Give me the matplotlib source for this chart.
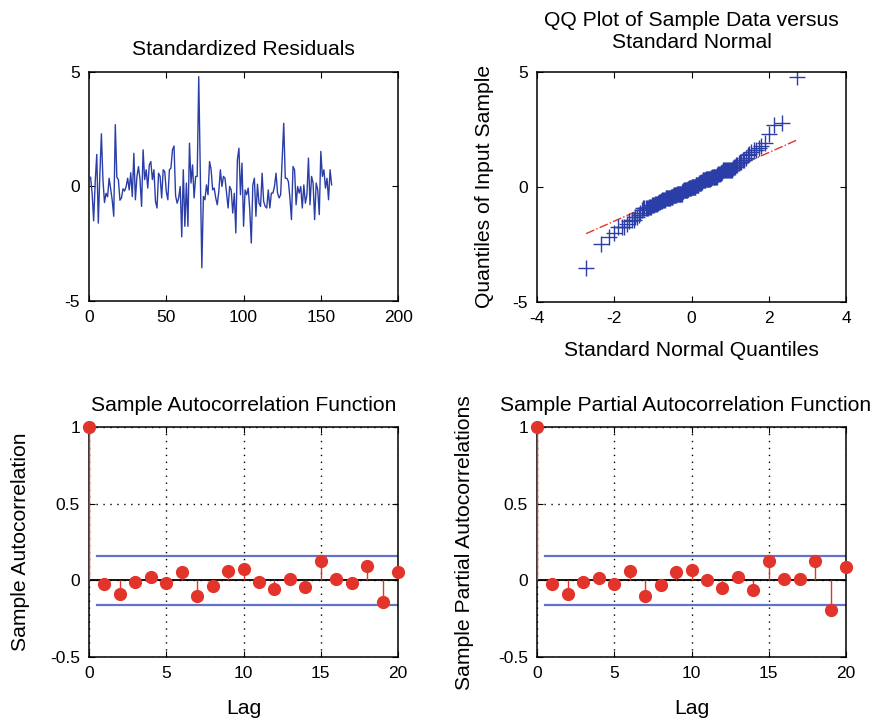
import numpy as np
import matplotlib.pyplot as plt
from statistics import NormalDist

plt.rcParams['font.family'] = ['Liberation Sans', 'DejaVu Sans']
plt.rcParams['axes.unicode_minus'] = False

# standardized residuals
resid = [0.4, -0.3, -1.5, 0.2, 1.4, -1.6, 0.5, 2.3, 0.3, -0.7,
         -0.3, -0.45, 0.36, -0.1, -0.6, -1.3, 2.7, 0.4, 0.3, -0.6,
         -0.5, -0.1, -0.2, 0.0, 0.36, -0.15, 0.6, -0.44, 1.45, -0.58,
         0.44, 0.87, 0.3, -0.87, 1.6, 0.3, 0.73, -0.07, 0.94, 1.09,
         0.3, 0.73, -0.65, -0.94, 0.58, 0.44, -0.5, 0.73, 0.65, -0.22,
         -0.58, 0.73, 0.8, 1.6, 1.77, -0.4, -0.73, -0.5, 0.0, -2.2,
         0.73, -1.74, 0.15, -1.74, 1.89, 0.15, 0.94, -0.5, 0.44, 0.44,
         4.8, 0.6, -3.55, -0.44, -0.58, 0.07, -0.36, 1.09, 0.73, -0.15,
         -0.07, -0.5, -0.8, -0.2, 0.73, 0.0, 0.44, 0.36, -0.3, -0.94,
         0.0, -0.15, -1.16, -0.3, -2.03, 1.16, 1.67, -0.36, 1.02, -1.74,
         -0.15, -0.36, -0.07, -1.0, -2.47, 0.07, 0.36, -1.3, 0.1, -0.73,
         -0.87, 0.58, -0.65, -0.87, -0.94, -0.15, -0.94, -0.29, -0.29, 0.0,
         0.58, -0.29, -0.5, -0.36, 1.16, 2.76, 0.36, 0.36, 0.22, -0.5,
         -1.45, 0.87, 0.73, -0.8, 0.0, -0.29, 0.0, -0.94, 0.07, -0.73,
         -0.36, 1.24, -0.8, 0.44, 0.15, -1.45, 0.15, -0.15, -1.23, 1.53,
         0.44, 0.73, -0.07, 0.36, -0.58, 0.73, 0.07]

lags = list(range(21))
acf = [1.0, -0.02, -0.09, -0.01, 0.024, -0.015, 0.054, -0.104, -0.035, 0.061,
       0.072, -0.009, -0.054, 0.009, -0.046, 0.128, 0.009, -0.015, 0.096, -0.143,
       0.052]
pacf = [1.0, -0.022, -0.091, -0.011, 0.017, -0.022, 0.059, -0.104, -0.033, 0.057,
        0.065, 0.0, -0.05, 0.02, -0.065, 0.128, 0.007, 0.009, 0.13, -0.191,
        0.087]
bounds = [0.16, -0.16]

blue = '#2b3ea8'
bound_blue = '#6374c4'
red = '#e2342a'
fs_title = 15.2
fs_tick = 12.5


def style(ax):
    ax.tick_params(direction='in', top=True, right=True, length=4, pad=6.5,
                   labelsize=fs_tick, colors='black')
    for s in ax.spines.values():
        s.set_linewidth(1.1)


fig = plt.figure(figsize=(8.78, 7.2), dpi=100)

# residuals
ax1 = fig.add_axes([0.1014, 0.582, 0.352, 0.318])
t = np.arange(1, len(resid) + 1)
ax1.plot(t, resid, color=blue, lw=1.0)
ax1.set_xlim(0, 200)
ax1.set_ylim(-5, 5)
ax1.set_xticks([0, 50, 100, 150, 200])
ax1.set_yticks([-5, 0, 5])
ax1.set_title('Standardized Residuals', fontsize=fs_title, pad=12)
style(ax1)

# QQ plot
ax2 = fig.add_axes([0.6116, 0.581, 0.352, 0.319])
y = np.sort(resid)
n = len(y)
nd = NormalDist()
x = np.array([nd.inv_cdf((i + 0.5) / n) for i in range(n)])
q1x, q3x = np.percentile(x, [25, 75])
q1y, q3y = np.percentile(y, [25, 75])
slope = (q3y - q1y) / (q3x - q1x)
cx, cy = (q1x + q3x) / 2, (q1y + q3y) / 2
mx = np.array([x.min(), x.max()])
my = cy + slope * (mx - cx)
ax2.plot(mx, my, color=red, lw=1.0, ls='-.', zorder=1)
ax2.plot(x, y, '+', color=blue, ms=11, mew=1.0, zorder=2)
ax2.set_xlim(-4, 4)
ax2.set_ylim(-5, 5)
ax2.set_xticks([-4, -2, 0, 2, 4])
ax2.set_yticks([-5, 0, 5])
ax2.set_title('QQ Plot of Sample Data versus\nStandard Normal', fontsize=fs_title,
              pad=17, linespacing=1.22)
ax2.set_xlabel('Standard Normal Quantiles', fontsize=fs_title, labelpad=11)
ax2.set_ylabel('Quantiles of Input Sample', fontsize=fs_title, labelpad=13)
style(ax2)


def stem_panel(ax, vals, title, ylabel, ypad):
    ax.grid(True, color='black', ls=(0, (1, 4)), lw=1.0)
    ax.axhline(0, color='black', lw=1.3, zorder=2)
    for b in bounds:
        ax.plot([0.5, 20], [b, b], color=bound_blue, lw=1.6, zorder=2)
    ax.vlines(lags, 0, vals, color=red, lw=1.0, zorder=3)
    ax.plot(lags, vals, 'o', color=red, ms=8.5, zorder=4, clip_on=False)
    ax.set_xlim(0, 20)
    ax.set_ylim(-0.5, 1)
    ax.set_xticks([0, 5, 10, 15, 20])
    ax.set_yticks([-0.5, 0, 0.5, 1])
    ax.set_yticklabels(['-0.5', '0', '0.5', '1'])
    ax.set_title(title, fontsize=fs_title, pad=12)
    ax.set_xlabel('Lag', fontsize=fs_title, labelpad=13)
    ax.set_ylabel(ylabel, fontsize=fs_title, labelpad=ypad)
    ax.set_axisbelow(True)
    style(ax)


ax3 = fig.add_axes([0.1014, 0.0875, 0.352, 0.319])
stem_panel(ax3, acf, 'Sample Autocorrelation Function', 'Sample Autocorrelation', 14.5)

ax4 = fig.add_axes([0.6116, 0.0875, 0.352, 0.319])
stem_panel(ax4, pacf, 'Sample Partial Autocorrelation Function',
           'Sample Partial Autocorrelations', 17)
ax4.title.set_x(0.48)

fig.savefig('out.png', dpi=100)
